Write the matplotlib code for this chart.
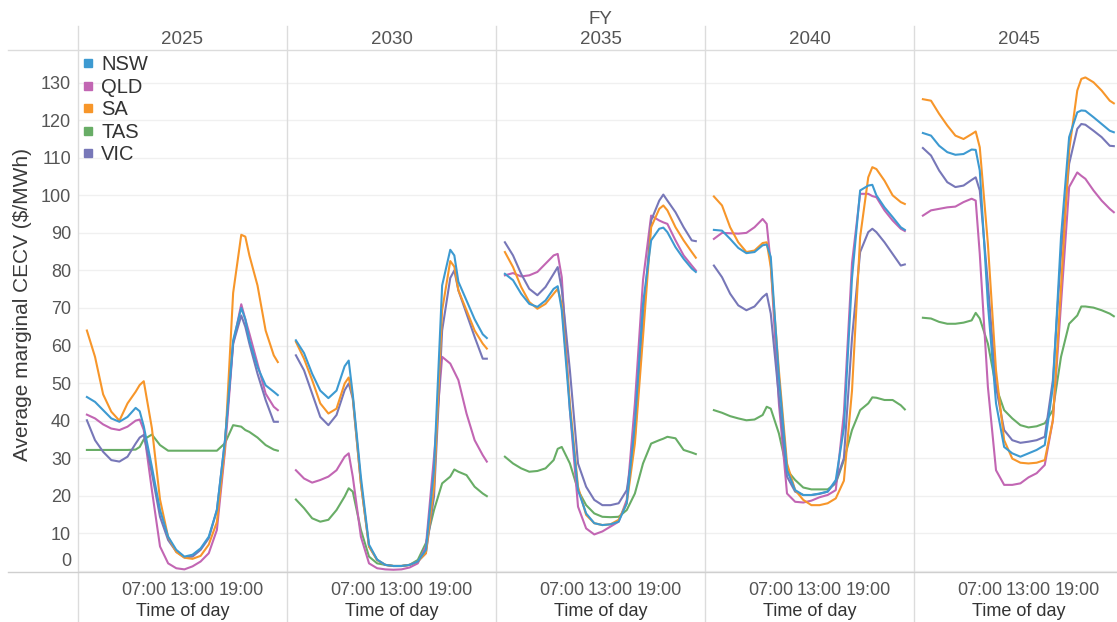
import matplotlib
matplotlib.use("Agg")
import matplotlib.pyplot as plt
from matplotlib.lines import Line2D
from matplotlib.transforms import ScaledTranslation

# ---------------- data ----------------
years = ["2025", "2030", "2035", "2040", "2045"]
regions = ["NSW", "QLD", "SA", "TAS", "VIC"]
colors = {"NSW": "#3d9ad1", "QLD": "#c266b3", "SA": "#f7962a", "TAS": "#68ad66", "VIC": "#7777b8"}

# time of day in hours
hours = [0, 1, 2, 3, 4, 5, 6, 6.5, 7, 8, 9, 10, 11, 12, 13, 14, 15, 16, 17, 18, 19, 19.5, 20, 21, 22, 23, 23.5]
tick_hours = [7, 13, 19]
tick_labels = ["07:00", "13:00", "19:00"]
y_ticks = [0, 10, 20, 30, 40, 50, 60, 70, 80, 90, 100, 110, 120, 130]

# FY2025
nsw_2025 = [46.3, 45, 42.8, 40.6, 39.7, 41, 43.4, 42.5, 38.5, 27.7, 16.2, 9.1, 5.6, 3.8, 4.3, 6, 9.1, 16.2, 34.8, 61.4, 70, 67, 61.4, 54.3, 49.4, 47.7, 46.8]
qld_2025 = [41.6, 40.6, 39, 37.9, 37.5, 38.4, 40, 40.3, 37.5, 21.5, 6.5, 2, 0.7, 0.4, 1.2, 2.5, 4.7, 10.9, 32, 60.5, 71, 67, 63.2, 55.2, 47.2, 43.7, 42.8]
sa_2025 = [64, 57, 47, 42.4, 40, 44.6, 47.7, 49.5, 50.5, 38, 19, 9, 5, 3.5, 3.2, 4, 7, 13, 33, 74, 89.5, 89, 84, 76, 64, 57.4, 55.6]
tas_2025 = [32.2, 32.2, 32.2, 32.2, 32.2, 32.2, 32.3, 33, 35, 36.3, 33.5, 32, 32, 32, 32, 32, 32, 32, 34, 38.8, 38.4, 37.5, 37, 35.5, 33.5, 32.3, 32]
vic_2025 = [40.1, 34.8, 31.7, 29.5, 29.1, 30.4, 33.9, 35.5, 36.2, 26, 14.4, 8.2, 5.1, 3.6, 3.8, 5.6, 8.7, 16.2, 34.8, 60.5, 68, 65, 60.5, 52.5, 45.5, 39.7, 39.7]

# FY2030
nsw_2030 = [61.4, 58, 52.5, 48, 46, 48, 54.5, 56, 47, 25, 7, 3, 1.6, 1.3, 1.3, 1.6, 2.5, 5.6, 27, 76, 85.5, 84, 77, 72, 67, 63, 62]
qld_2030 = [26.8, 24.6, 23.5, 24.2, 25.1, 26.8, 30.4, 31.3, 25.1, 9.1, 2, 0.7, 0.4, 0.3, 0.4, 0.9, 2, 6.5, 30.4, 57, 55.2, 53, 50.8, 41.9, 34.8, 30.8, 29.1]
sa_2030 = [61, 56.5, 50.8, 44.6, 41.9, 43.2, 49.9, 51.5, 46.3, 23.3, 6.5, 2.9, 1.6, 1.3, 1.3, 1.6, 2.5, 4.7, 22.4, 69.4, 82.5, 81, 74.7, 69.4, 64, 60.5, 59.2]
tas_2030 = [19, 16.7, 14, 13.1, 13.6, 16.2, 19.8, 22, 21.1, 10.9, 3.8, 2, 1.6, 1.3, 1.3, 1.6, 2.9, 7.4, 16.2, 23.3, 25.1, 27, 26.4, 25.5, 22.4, 20.6, 19.9]
vic_2030 = [57.4, 53.4, 47.2, 41, 38.8, 41.5, 48.1, 49.9, 45.9, 23.3, 6.5, 2.9, 1.6, 1.3, 1.3, 1.6, 2.5, 4.7, 19.8, 64, 78, 80, 74.7, 68.5, 62.3, 56.5, 56.5]

# FY2035
nsw_2035 = [79.1, 77.4, 73.8, 71.1, 70.3, 72, 75.1, 75.8, 69.4, 42.8, 21.5, 15.3, 12.7, 12.2, 12.4, 13.1, 18, 39.3, 71.1, 88, 91.1, 91.4, 90.2, 86.2, 83.1, 80.5, 79.6]
qld_2035 = [78.7, 79.3, 78.4, 78.7, 79.6, 81.8, 84, 84.4, 78.2, 42.8, 17.1, 11.3, 9.7, 10.5, 11.8, 13.1, 18.9, 44.6, 77.4, 94.6, 93.3, 92.8, 92.4, 88, 84, 81.3, 80]
sa_2035 = [84.9, 80.9, 75.6, 71.6, 69.8, 71.1, 73.8, 75.1, 71, 44.6, 22.4, 14.9, 12.7, 12.2, 12.4, 13.6, 18, 33.9, 62.3, 91.5, 96.4, 97.3, 96, 91.5, 88, 84.9, 83.4]
tas_2035 = [30.4, 28.6, 27.3, 26.4, 26.6, 27.3, 29.5, 32.5, 33, 28.6, 21.5, 17.5, 15.3, 14.4, 14.3, 14.4, 16.2, 20.6, 28.6, 33.9, 34.8, 35.2, 35.7, 35.3, 32.2, 31.5, 31.1]
vic_2035 = [87.5, 84, 79.1, 75.1, 73.4, 75.6, 79.1, 80.9, 75, 53.4, 28.6, 22.4, 18.9, 17.5, 17.5, 18, 21.5, 35.7, 65.8, 93.3, 98.6, 100.2, 98.6, 95.5, 91.5, 88, 87.8]

# FY2040
nsw_2040 = [90.8, 90.6, 88.4, 86, 84.6, 84.9, 86.7, 86.9, 83.6, 51.7, 26.8, 21.5, 20.2, 20.2, 20.6, 21.1, 24.2, 38, 78, 101.3, 102.6, 102.8, 100, 96.8, 94.2, 91.5, 90.8]
qld_2040 = [88.4, 90, 89.9, 89.8, 90, 91.5, 93.7, 92.4, 81.8, 44.6, 20.6, 18.4, 18.2, 18.7, 19.6, 20.2, 21.5, 42, 82, 100.4, 100.4, 99.8, 99.5, 96, 93.3, 91.1, 90.5]
sa_2040 = [99.7, 97.3, 91.5, 87.5, 84.9, 85.3, 87.3, 87.5, 80.9, 53.4, 28.6, 21.5, 18.9, 17.5, 17.5, 18, 19.3, 24, 48, 88.9, 104.8, 107.5, 107, 103.9, 100, 98.2, 97.7]
tas_2040 = [42.8, 42.1, 41.2, 40.6, 40.1, 40.3, 41.5, 43.7, 43.2, 36.6, 26.8, 24.2, 22.2, 21.7, 21.7, 21.7, 23.3, 29.5, 37.5, 42.8, 44.6, 46.2, 46.1, 45.5, 45.5, 44.1, 43]
vic_2040 = [81.3, 78.2, 73.8, 70.7, 69.4, 70.4, 72.9, 73.8, 68.5, 46.3, 25.1, 21.1, 20.2, 20.2, 20.5, 21.1, 23.7, 30, 62, 84.9, 90.2, 91.1, 90.2, 87.5, 84.4, 81.3, 81.6]

# FY2045
nsw_2045 = [116.6, 115.9, 113.2, 111.5, 110.8, 111, 112.2, 112.1, 106.6, 71.1, 44.6, 33, 31.3, 30.4, 31.3, 32.2, 33.5, 49, 88.9, 115.5, 122.1, 122.6, 122.5, 120.8, 119, 117.2, 116.8]
qld_2045 = [94.6, 96, 96.4, 96.8, 97, 98.2, 99.1, 98.6, 84.4, 49, 26.8, 22.9, 22.9, 23.3, 24.9, 26, 28.2, 40.1, 71.1, 102.2, 106.1, 105.2, 104.4, 101.3, 98.6, 96.4, 95.5]
sa_2045 = [125.6, 125.2, 121.7, 118.6, 115.9, 115, 116.3, 117, 112.8, 87.1, 53.4, 34.8, 29.9, 28.8, 28.6, 28.8, 29.5, 40.1, 75.6, 111.9, 127.9, 131, 131.4, 130.1, 127.9, 125.2, 124.5]
tas_2045 = [67.4, 67.2, 66.3, 65.8, 65.8, 66.1, 66.7, 68.7, 67.2, 60.5, 49, 42.8, 40.6, 38.8, 38.2, 38.5, 39.3, 42.8, 57, 65.8, 68, 70.4, 70.4, 70.1, 69.4, 68.5, 67.8]
vic_2045 = [112.6, 110.6, 106.6, 103.5, 102.2, 102.6, 104.1, 104.8, 101.3, 76.5, 49, 37.5, 34.8, 34.1, 34.4, 34.8, 35.7, 50.8, 84.4, 108.4, 117.7, 119, 118.8, 117.2, 115.5, 113.2, 113.1]

series = {
    "2025": {"NSW": nsw_2025, "QLD": qld_2025, "SA": sa_2025, "TAS": tas_2025, "VIC": vic_2025},
    "2030": {"NSW": nsw_2030, "QLD": qld_2030, "SA": sa_2030, "TAS": tas_2030, "VIC": vic_2030},
    "2035": {"NSW": nsw_2035, "QLD": qld_2035, "SA": sa_2035, "TAS": tas_2035, "VIC": vic_2035},
    "2040": {"NSW": nsw_2040, "QLD": qld_2040, "SA": sa_2040, "TAS": tas_2040, "VIC": vic_2040},
    "2045": {"NSW": nsw_2045, "QLD": qld_2045, "SA": sa_2045, "TAS": tas_2045, "VIC": vic_2045},
}

# ---------------- layout ----------------
plt.rcParams["font.family"] = ["Liberation Sans", "DejaVu Sans"]
W, H = 1117, 622
fig = plt.figure(figsize=(W / 100, H / 100), dpi=100)
fig.patch.set_facecolor("white")

def fx(x):
    return x / W

def fy(y):
    return 1 - y / H

SEP = "#dcdcdc"
GRID = "#f0f0f0"
TXT = "#555555"

panel_left = 78
panel_w = 209
ax_top, ax_bot = 50, 572
draw_order = ["TAS", "QLD", "VIC", "SA", "NSW"]

axes = []
for i, yr in enumerate(years):
    x0 = panel_left + i * panel_w
    ax = fig.add_axes([fx(x0), fy(ax_bot), panel_w / W, (ax_bot - ax_top) / H])
    ax.set_facecolor("none")
    for s in ax.spines.values():
        s.set_visible(False)
    ax.set_xlim(-1.095, 24.63)
    ax.set_ylim(-0.3, 138.7)
    ax.set_yticks(y_ticks)
    ax.grid(axis="y", color=GRID, linewidth=1.0)
    ax.set_axisbelow(True)
    ax.set_xticks(tick_hours)
    ax.set_xticklabels(tick_labels, fontsize=13, color=TXT)
    ax.tick_params(axis="x", length=0, pad=7)
    ax.tick_params(axis="y", length=0, pad=5, labelsize=13, labelcolor=TXT)
    if i > 0:
        ax.tick_params(axis="y", labelleft=False)
    for r in draw_order:
        ax.plot(hours, series[yr][r], color=colors[r], linewidth=1.5, solid_joinstyle="round")
    ax.set_xlabel("Time of day", fontsize=13, color="#333333", labelpad=3)
    ax.set_title(yr, fontsize=13.5, color=TXT, pad=4)
    axes.append(ax)

# shift the "0" tick label up, as in the reference
ax0 = axes[0]
fig.canvas.draw()
for tick in ax0.yaxis.get_major_ticks():
    if abs(tick.get_loc()) < 1e-9:
        lbl = tick.label1
        lbl.set_transform(lbl.get_transform() + ScaledTranslation(0, 11 / 100, fig.dpi_scale_trans))

ax0.set_ylabel("Average marginal CECV ($/MWh)", fontsize=15, color="#3a3a3a", labelpad=5)
ax0.yaxis.set_label_coords(-0.22, 0.512)

# legend
handles = [Line2D([], [], marker="s", linestyle="", markersize=6.3, color=colors[r]) for r in regions]
leg = ax0.legend(handles, regions, loc="upper left", bbox_to_anchor=(fx(82), fy(55)),
                 bbox_transform=fig.transFigure, frameon=False, fontsize=14.5,
                 handlelength=0.55, handletextpad=0.4, labelspacing=0.18, borderpad=0,
                 borderaxespad=0)
for t in leg.get_texts():
    t.set_color("#333333")

# header
fig.text(fx(600), fy(19), "FY", ha="center", va="center", fontsize=13.5, color=TXT)

# separators
for i in range(6):
    xs = panel_left + i * panel_w
    fig.add_artist(Line2D([fx(xs), fx(xs)], [fy(26), fy(622)], color=SEP, linewidth=1.0,
                          transform=fig.transFigure))
fig.add_artist(Line2D([fx(8), 1], [fy(ax_top), fy(ax_top)], color=SEP, linewidth=1.0,
                      transform=fig.transFigure))
fig.add_artist(Line2D([fx(8), 1], [fy(ax_bot), fy(ax_bot)], color="#cfcfcf", linewidth=1.0,
                      transform=fig.transFigure))

fig.savefig("out.png", dpi=100, facecolor="white")
